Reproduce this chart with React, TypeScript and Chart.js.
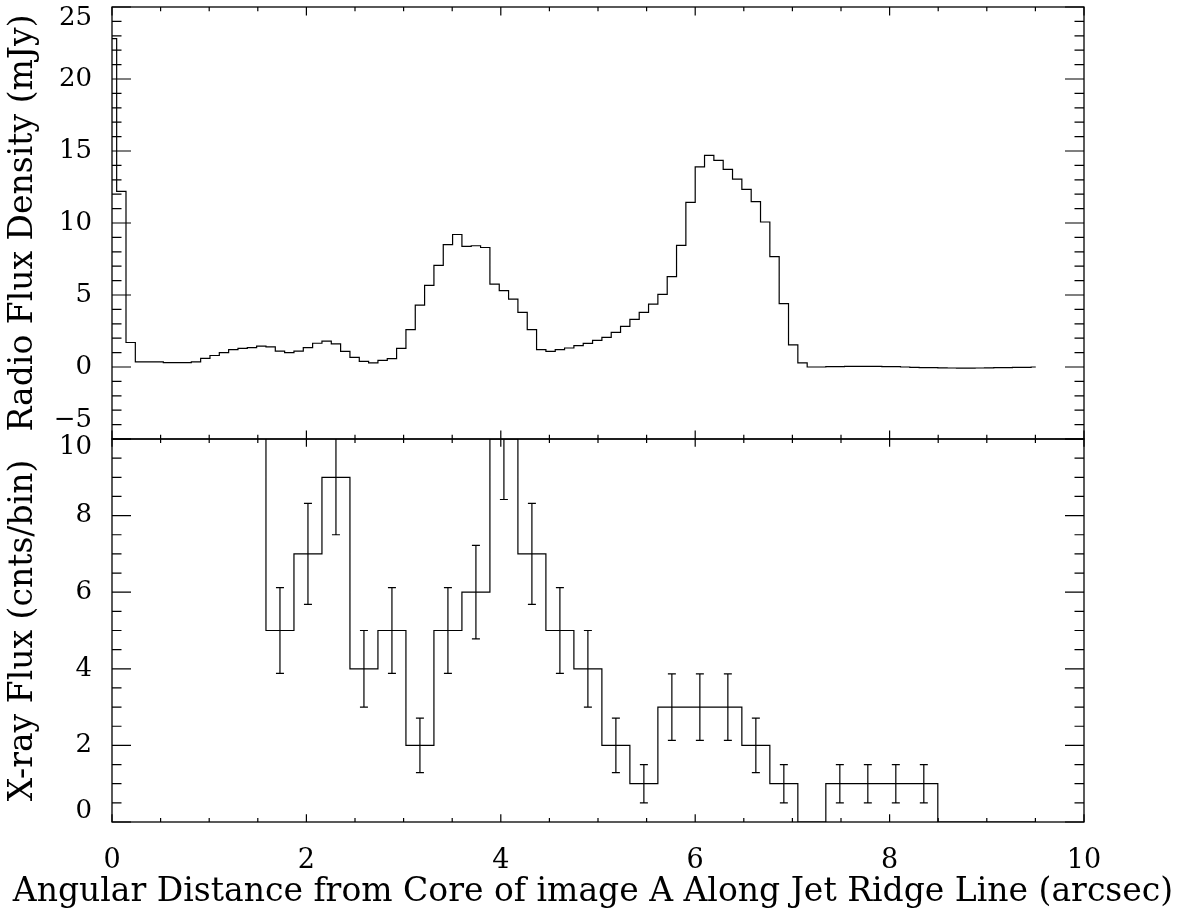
import React, { useEffect, useRef } from 'react';
import { Chart, registerables } from 'chart.js';

Chart.register(...registerables);

// ---------------- data ----------------
// Radio profile: bin centres start at 0 arcsec, spaced RADIO_STEP apart
const RADIO_START = 0;
const RADIO_STEP = 0.096;
const RADIO_FLUX = [
  22.8, 12.2, 1.7,
  0.35, 0.35, 0.35, 0.3, 0.3, 0.3, 0.35,
  0.6, 0.8, 1.0, 1.2, 1.3, 1.35, 1.45, 1.4, 1.1, 1.0, 1.1, 1.35, 1.65, 1.8, 1.6, 1.08, 0.67,
  0.39, 0.28, 0.46, 0.58, 1.3, 2.6, 4.3, 5.67, 7.06, 8.5, 9.2, 8.37, 8.42, 8.3, 5.76,
  5.3, 4.72, 3.8, 2.6, 1.2, 1.08, 1.2, 1.32, 1.48, 1.64,
  1.85, 2.06, 2.4, 2.82, 3.31, 3.8, 4.37, 5.04, 6.27, 8.45, 11.43, 13.9, 14.7, 14.35, 13.73,
  13.05, 12.33, 11.48, 10.07, 7.66, 4.4, 1.53, 0.28, 0.0, 0.0,
  0.02, 0.03, 0.05, 0.05, 0.05, 0.04, 0.03, 0.02, 0.0, -0.02, -0.04, -0.05, -0.06, -0.07,
  -0.08, -0.08, -0.07, -0.06, -0.05, -0.04, -0.03, -0.02, 0.0,
];

// X-ray profile: bin centres start at XRAY_START, spaced XRAY_STEP apart
const XRAY_START = 1.44;
const XRAY_STEP = 0.288;
const XRAY_COUNTS = [12, 5, 7, 9, 4, 5, 2, 5, 6, 10, 7, 5, 4, 2, 1, 3, 3, 3, 2, 1, 0, 1, 1, 1, 1, 0, 0, 0, 0];
const XRAY_ERR = [1.73, 1.12, 1.32, 1.5, 1.0, 1.12, 0.71, 1.12, 1.22, 1.58, 1.32, 1.12, 1.0, 0.71, 0.5, 0.87, 0.87, 0.87, 0.71, 0.5, 0, 0.5, 0.5, 0.5, 0.5, 0, 0, 0, 0];

const X_TICKS = [0, 2, 4, 6, 8, 10];
const RADIO_Y_TICKS = [-5, 0, 5, 10, 15, 20, 25];
const XRAY_Y_TICKS = [0, 2, 4, 6, 8, 10];

const X_TITLE = 'Angular Distance from Core of image A Along Jet Ridge Line (arcsec)';
const RADIO_Y_TITLE = 'Radio Flux Density (mJy)';
const XRAY_Y_TITLE = 'X-ray Flux (cnts/bin)';

// ---------------- styles ----------------
const FONT = 'DejaVu Serif';
const TICK_SIZE = 26;
const TITLE_SIZE = 33;
const LINE_W = 1.2;

// label shifts (px) to keep end labels inside the panel, IDL style
const RADIO_LABEL_SHIFT: Record<string, number> = { '25': 11, '-5': -19 };
const XRAY_LABEL_SHIFT: Record<string, number> = { '10': 8, '0': -11 };

const fmt = (v: number) => (v < 0 ? '\u2212' + Math.abs(v) : String(v));

// frame + inward ticks on all four sides, and error bars
const idlPlugin = {
  id: 'idlPlugin',
  afterDatasetsDraw(chart: any, _args: any, opts: any) {
    const { ctx, chartArea: a, scales } = chart;
    ctx.save();
    ctx.beginPath();
    ctx.rect(a.left, a.top, a.right - a.left, a.bottom - a.top);
    ctx.clip();
    ctx.strokeStyle = '#000';
    ctx.lineWidth = LINE_W;
    chart.data.datasets.forEach((ds: any) => {
      if (!ds.errors) return;
      ds.data.forEach((p: any, i: number) => {
        const e = ds.errors[i];
        if (!e) return;
        const x = scales.x.getPixelForValue(p.x);
        const y1 = scales.y.getPixelForValue(p.y + e);
        const y2 = scales.y.getPixelForValue(p.y - e);
        ctx.beginPath();
        ctx.moveTo(x, y1);
        ctx.lineTo(x, y2);
        ctx.moveTo(x - 4, y1);
        ctx.lineTo(x + 4, y1);
        ctx.moveTo(x - 4, y2);
        ctx.lineTo(x + 4, y2);
        ctx.stroke();
      });
    });
    ctx.restore();

    ctx.save();
    ctx.strokeStyle = '#000';
    ctx.lineWidth = 1.3;
    ctx.strokeRect(a.left, a.top, a.right - a.left, a.bottom - a.top);
    ctx.lineWidth = 1.2;
    ctx.beginPath();
    const walk = (scale: any, spec: any, cb: (px: number, major: boolean) => void) => {
      const start = Math.ceil(scale.min / spec.minor - 1e-9);
      const end = Math.floor(scale.max / spec.minor + 1e-9);
      for (let i = start; i <= end; i++) {
        const v = i * spec.minor;
        const r = v / spec.major;
        const major = Math.abs(r - Math.round(r)) < 1e-6;
        cb(scale.getPixelForValue(v), major);
      }
    };
    walk(scales.x, opts.x, (px, major) => {
      const l = major ? opts.x.majLen : opts.x.minLen;
      ctx.moveTo(px, a.bottom);
      ctx.lineTo(px, a.bottom - l);
      ctx.moveTo(px, a.top);
      ctx.lineTo(px, a.top + l);
    });
    walk(scales.y, opts.y, (py, major) => {
      const l = major ? opts.y.majLen : opts.y.minLen;
      ctx.moveTo(a.left, py);
      ctx.lineTo(a.left + l, py);
      ctx.moveTo(a.right, py);
      ctx.lineTo(a.right - l, py);
    });
    ctx.stroke();
    ctx.restore();
  },
};

function yAxis(ticks: number[], shifts: Record<string, number>, min: number, max: number, title: string) {
  return {
    type: 'linear',
    position: 'left',
    min,
    max,
    grid: { display: false },
    border: { display: false },
    afterBuildTicks: (s: any) => {
      s.ticks = ticks.map((v) => ({ value: v }));
    },
    afterFit: (s: any) => {
      s.width = 112;
      s.paddingTop = 0;
      s.paddingBottom = 0;
    },
    ticks: {
      color: '#000',
      padding: 12,
      autoSkip: false,
      font: (c: any) => {
        const v = c && c.tick ? String(c.tick.value) : '';
        const sh = shifts[v];
        return { family: FONT, size: TICK_SIZE, lineHeight: sh ? `${2 * Math.abs(sh)}px` : 1.2 };
      },
      callback: (v: any) => {
        const label = fmt(Number(v));
        const sh = shifts[String(v)];
        if (!sh) return label;
        return sh > 0 ? ['', label] : [label, ''];
      },
    },
    title: {
      display: true,
      text: title,
      color: '#000',
      font: { family: FONT, size: TITLE_SIZE, lineHeight: 1.2 },
      padding: { top: 4, bottom: 0 },
    },
  };
}

const rightSpacer = {
  type: 'linear',
  position: 'right',
  display: true,
  grid: { display: false },
  border: { display: false },
  ticks: { display: false },
  afterFit: (s: any) => {
    s.width = 102;
    s.paddingTop = 0;
    s.paddingBottom = 0;
  },
};

export default function App() {
  const topRef = useRef<HTMLCanvasElement>(null);
  const botRef = useRef<HTMLCanvasElement>(null);

  useEffect(() => {
    const radioData = RADIO_FLUX.map((y, i) => ({ x: RADIO_START + i * RADIO_STEP, y }));
    const xrayData = XRAY_COUNTS.map((y, i) => ({ x: XRAY_START + i * XRAY_STEP, y }));

    const top = new Chart(topRef.current as HTMLCanvasElement, {
      type: 'line',
      data: {
        datasets: [
          {
            data: radioData,
            stepped: 'middle',
            borderColor: '#000',
            borderWidth: LINE_W,
            pointRadius: 0,
            fill: false,
          },
        ],
      },
      options: {
        responsive: false,
        animation: false,
        events: [],
        layout: { padding: { left: 0, right: 0, top: 7, bottom: 11 } },
        plugins: {
          legend: { display: false },
          tooltip: { enabled: false },
          idlPlugin: {
            x: { major: 2, minor: 0.5, majLen: 8.5, minLen: 4.3 },
            y: { major: 5, minor: 1, majLen: 19, minLen: 9.5 },
          },
        },
        scales: {
          x: { type: 'linear', display: false, min: 0, max: 10 },
          y: yAxis(RADIO_Y_TICKS, RADIO_LABEL_SHIFT, -5, 25, RADIO_Y_TITLE),
          y2: rightSpacer,
        },
      } as any,
      plugins: [idlPlugin],
    });

    const bot = new Chart(botRef.current as HTMLCanvasElement, {
      type: 'line',
      data: {
        datasets: [
          {
            data: xrayData,
            errors: XRAY_ERR,
            stepped: 'middle',
            borderColor: '#000',
            borderWidth: LINE_W,
            pointRadius: 0,
            fill: false,
          } as any,
        ],
      },
      options: {
        responsive: false,
        animation: false,
        events: [],
        layout: { padding: { left: 0, right: 0, top: 19, bottom: 0 } },
        plugins: {
          legend: { display: false },
          tooltip: { enabled: false },
          title: {
            display: true,
            position: 'bottom',
            text: X_TITLE,
            color: '#000',
            font: { family: FONT, size: TITLE_SIZE, lineHeight: 1.0, weight: 'normal' },
            padding: { top: 0, bottom: 4 },
          },
          idlPlugin: {
            x: { major: 2, minor: 0.5, majLen: 7.7, minLen: 3.9 },
            y: { major: 2, minor: 0.5, majLen: 19, minLen: 9.5 },
          },
        },
        scales: {
          x: {
            type: 'linear',
            position: 'bottom',
            min: 0,
            max: 10,
            grid: { display: false },
            border: { display: false },
            afterBuildTicks: (s: any) => {
              s.ticks = X_TICKS.map((v) => ({ value: v }));
            },
            afterFit: (s: any) => {
              s.height = 54;
              s.paddingLeft = 0;
              s.paddingRight = 0;
            },
            ticks: {
              color: '#000',
              padding: 15,
              maxRotation: 0,
              autoSkip: false,
              font: { family: FONT, size: TICK_SIZE + 1, lineHeight: 1.2 },
              callback: (v: any) => fmt(Number(v)),
            },
          },
          y: yAxis(XRAY_Y_TICKS, XRAY_LABEL_SHIFT, 0, 10, XRAY_Y_TITLE),
          y2: rightSpacer,
        },
      } as any,
      plugins: [idlPlugin],
    });

    return () => {
      top.destroy();
      bot.destroy();
    };
  }, []);

  return (
    <div style={{ position: 'fixed', left: 0, top: 0, width: 1186, height: 913, background: '#fff' }}>
      <canvas ref={topRef} width={1186} height={450} style={{ position: 'absolute', left: 0, top: 0 }} />
      <canvas ref={botRef} width={1186} height={493} style={{ position: 'absolute', left: 0, top: 420 }} />
    </div>
  );
}
